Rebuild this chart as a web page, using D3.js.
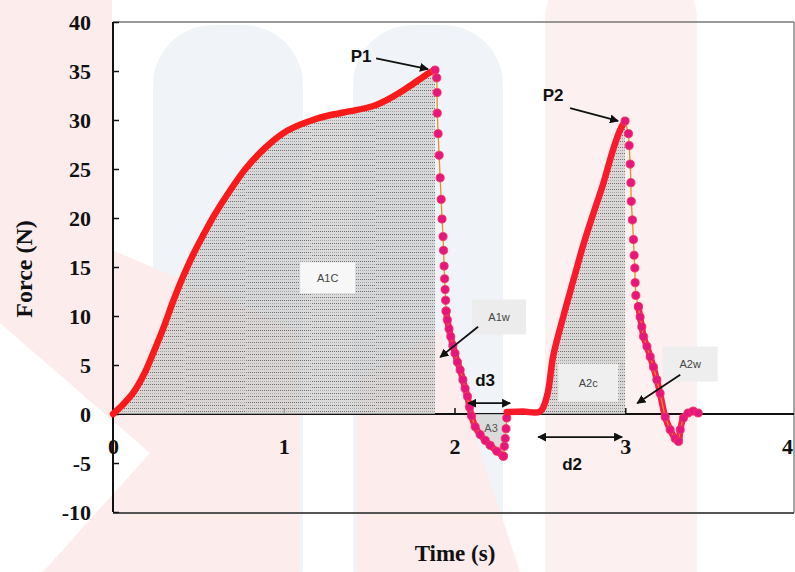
<!DOCTYPE html>
<html>
<head>
<meta charset="utf-8">
<script src="https://cdn.jsdelivr.net/npm/d3@7"></script>
<style>
  body { margin: 0; background: #fff; }
  svg { display: block; }
</style>
</head>
<body>
<svg id="chart"></svg>
<script>
// ---- data ----
// first contraction, rising part up to P1 (solid trace)
var rise1Time  = [0, 0.06, 0.12, 0.18, 0.24, 0.30, 0.35, 0.41, 0.47, 0.53, 0.59, 0.67, 0.78, 0.90, 1.02, 1.17, 1.30, 1.39, 1.52, 1.60, 1.68, 1.75, 1.80, 1.85, 1.886];
var rise1Force = [0, 1.0, 2.2, 4.0, 6.4, 9.0, 11.4, 14.0, 16.3, 18.3, 20.2, 22.4, 25.1, 27.3, 28.9, 30.0, 30.6, 30.9, 31.4, 32.0, 32.8, 33.6, 34.2, 34.8, 35.1];
// fast release after P1 (sparse samples)
var drop1Time  = [1.886, 1.896, 1.898, 1.899, 1.904, 1.910, 1.916, 1.922, 1.927, 1.933, 1.936, 1.939, 1.942, 1.945, 1.948, 1.951];
var drop1Force = [35.1, 34.3, 32.8, 30.7, 28.6, 26.4, 24.1, 21.9, 19.9, 18.1, 16.7, 15.1, 13.8, 12.7, 11.6, 10.5];
// end of release and undershoot
var dip1Time  = [1.951, 1.958, 1.968, 1.978, 1.990, 2.003, 2.017, 2.033, 2.049, 2.062, 2.076, 2.088, 2.100, 2.121, 2.150, 2.180, 2.209, 2.248, 2.286];
var dip1Force = [10.5, 9.6, 8.7, 7.9, 7.0, 6.2, 5.3, 4.5, 3.5, 2.6, 1.8, 0.7, -0.2, -1.3, -2.1, -2.7, -3.2, -3.8, -4.3];
var back1Time  = [2.286, 2.292, 2.297, 2.302, 2.306];
var back1Force = [-4.3, -3.3, -2.5, -1.5, -0.4];
// rest, then second contraction up to P2
var rise2Time  = [2.306, 2.40, 2.501, 2.541, 2.579, 2.638, 2.697, 2.755, 2.814, 2.871, 2.929, 2.970, 2.999];
var rise2Force = [0.2, 0.25, 0.25, 1.8, 6.0, 10.0, 13.7, 17.3, 20.5, 23.5, 27.0, 29.0, 29.9];
var drop2Time  = [2.999, 3.019, 3.023, 3.029, 3.033, 3.035, 3.042, 3.048, 3.052, 3.056, 3.058, 3.062, 3.077];
var drop2Force = [29.9, 28.6, 27.4, 25.5, 23.6, 21.7, 19.8, 17.8, 16.2, 14.9, 13.4, 12.1, 10.95];
var dip2Time  = [3.077, 3.087, 3.097, 3.107, 3.127, 3.146, 3.165, 3.185, 3.204, 3.234, 3.263, 3.292, 3.312, 3.322, 3.341, 3.368, 3.398, 3.427];
var dip2Force = [10.95, 9.9, 8.9, 7.9, 6.9, 5.85, 4.8, 3.5, 2.1, -0.3, -1.6, -2.5, -2.8, -1.6, -0.4, 0.1, 0.3, 0.1];

var xTicks = [0, 1, 2, 3, 4];
var yTicks = [-10, -5, 0, 5, 10, 15, 20, 25, 30, 35, 40];

var W = 795, H = 572;
var svg = d3.select("#chart").attr("width", W).attr("height", H);

var x = d3.scaleLinear().domain([0, 4]).range([113, 796]);
var y = d3.scaleLinear().domain([-10, 40]).range([512, 22]);

function pts(ts, fs) {
  return ts.map(function (t, i) { return { t: t, f: fs[i] }; });
}
var rise1 = pts(rise1Time, rise1Force),
  drop1 = pts(drop1Time, drop1Force),
  dip1 = pts(dip1Time, dip1Force),
  back1 = pts(back1Time, back1Force),
  rise2 = pts(rise2Time, rise2Force),
  drop2 = pts(drop2Time, drop2Force),
  dip2 = pts(dip2Time, dip2Force);

// ---- faint watermark behind the chart ----
var wm = svg.append("g");
wm.append("rect").attr("x", -80).attr("y", -60).attr("width", 192).attr("height", 700).attr("rx", 55).attr("fill", "#fcecec");
wm.append("rect").attr("x", 153).attr("y", 25).attr("width", 150).attr("height", 600).attr("rx", 60).attr("fill", "#f0f4f8");
wm.append("rect").attr("x", 353).attr("y", 25).attr("width", 150).attr("height", 600).attr("rx", 60).attr("fill", "#f0f4f8");
wm.append("rect").attr("x", 545).attr("y", -40).attr("width", 152).attr("height", 700).attr("rx", 60).attr("fill", "#fdf0f0");
wm.append("polygon").attr("points", "112,250 300,330 300,572 112,572").attr("fill", "#fcecec");
wm.append("polygon").attr("points", "357,380 440,330 520,572 357,572").attr("fill", "#fcecec");
wm.append("polygon").attr("points", "0,323 150,453 43,572 0,572").attr("fill", "#ffffff");

// ---- hatch patterns ----
var defs = svg.append("defs");
[0, 3].forEach(function (off, i) {
  var p = defs.append("pattern").attr("id", "hatch" + i)
    .attr("patternUnits", "userSpaceOnUse").attr("width", 6).attr("height", 6)
    .attr("patternTransform", "translate(0," + off + ")");
  p.append("rect").attr("width", 6).attr("height", 6).attr("fill", "#cfcfcf").attr("fill-opacity", 0.75);
  p.append("line").attr("x1", 0).attr("x2", 6).attr("y1", 0.5).attr("y2", 0.5)
    .attr("stroke", "#6d6d6d").attr("stroke-width", 1).attr("stroke-dasharray", "1,1");
  p.append("line").attr("x1", 0).attr("x2", 6).attr("y1", 3.5).attr("y2", 3.5)
    .attr("stroke", "#9a9a9a").attr("stroke-width", 0.8).attr("stroke-dasharray", "1,1");
});
defs.append("marker").attr("id", "arrow").attr("viewBox", "0 0 10 10")
  .attr("refX", 9).attr("refY", 5).attr("markerWidth", 5).attr("markerHeight", 5)
  .attr("orient", "auto-start-reverse")
  .append("path").attr("d", "M0,0 L10,5 L0,10 Z").attr("fill", "#111");

// ---- axes & frame ----
svg.append("line").attr("x1", 113).attr("x2", 794).attr("y1", 22).attr("y2", 22).attr("stroke", "#777").attr("stroke-width", 1.5);
svg.append("line").attr("x1", 794).attr("x2", 794).attr("y1", 22).attr("y2", 513).attr("stroke", "#888").attr("stroke-width", 1.5);
svg.append("line").attr("x1", 113).attr("x2", 794).attr("y1", 513).attr("y2", 513).attr("stroke", "#555").attr("stroke-width", 2);

var fmt = function (d) { return String(d); };
var yAxis = d3.axisLeft(y).tickValues(yTicks).tickFormat(fmt).tickSizeInner(-6).tickSizeOuter(0).tickPadding(22);
var gy = svg.append("g").attr("transform", "translate(113,0)").call(yAxis);
var xAxis = d3.axisBottom(x).tickValues(xTicks).tickFormat(fmt).tickSizeInner(-6).tickSizeOuter(0).tickPadding(24);
var gx = svg.append("g").attr("transform", "translate(0," + y(0) + ")").call(xAxis);
[gx, gy].forEach(function (g) {
  g.selectAll("path").attr("stroke", "#111").attr("stroke-width", 2);
  g.selectAll("line").attr("stroke", "#111").attr("stroke-width", 1.5);
  g.selectAll("text").attr("fill", "#111")
    .style("font-family", "'Liberation Serif', 'DejaVu Serif', serif")
    .style("font-weight", "bold").style("font-size", "22px");
});
gy.select("path").attr("d", "M0," + y(-10) + "V" + y(40));
gx.select("path").attr("d", "M" + x(0) + ",0H794");
// last x label sits on the right edge; nudge it inside
gx.selectAll(".tick text").filter(function (d) { return d === 4; }).attr("x", -9);

svg.append("text").attr("transform", "translate(32," + 269 + ")rotate(-90)")
  .attr("text-anchor", "middle")
  .style("font-family", "'Liberation Serif', serif").style("font-weight", "bold").style("font-size", "24px")
  .attr("fill", "#111").text("Force (N)");
svg.append("text").attr("x", 455).attr("y", 561).attr("text-anchor", "middle")
  .style("font-family", "'Liberation Serif', serif").style("font-weight", "bold").style("font-size", "23px")
  .attr("fill", "#111").text("Time (s)");

// ---- shaded areas ----
var area = d3.area().x(function (d) { return x(d.t); })
  .y0(y(0)).y1(function (d) { return y(Math.max(d.f, 0)); })
  .curve(d3.curveCatmullRom.alpha(0.5));
defs.append("clipPath").attr("id", "clipA1").append("path").attr("d", area(rise1));
var bands = [0, 0.42, 0.78, 1.166, 1.535, 1.9];
var gA1 = svg.append("g").attr("clip-path", "url(#clipA1)");
for (var i = 0; i < bands.length - 1; i++) {
  gA1.append("rect").attr("x", x(bands[i])).attr("width", x(bands[i + 1]) - x(bands[i]))
    .attr("y", y(40)).attr("height", y(0) - y(40) + 2)
    .attr("fill", "url(#hatch" + (i % 2) + ")");
}
var a2 = rise2.filter(function (d) { return d.t >= 2.5; });
svg.append("path").attr("d", area(a2)).attr("fill", "url(#hatch1)");

var a3 = dip1.filter(function (d) { return d.f <= 0.7; }).concat(back1.slice(-1));
var area3 = d3.area().x(function (d) { return x(d.t); })
  .y0(y(0)).y1(function (d) { return y(Math.min(d.f, 0)); });
svg.append("path").attr("d", area3(a3)).attr("fill", "#d6d6d6").attr("fill-opacity", 0.85);

// ---- force trace ----
var line = d3.line().x(function (d) { return x(d.t); }).y(function (d) { return y(d.f); })
  .curve(d3.curveCatmullRom.alpha(0.5));
function thick(data, color) {
  svg.append("path").attr("d", line(data)).attr("fill", "none")
    .attr("stroke", color).attr("stroke-width", 6.5)
    .attr("stroke-linecap", "round").attr("stroke-linejoin", "round");
}
function dots(data) {
  svg.append("path").attr("d", d3.line().x(function (d) { return x(d.t); }).y(function (d) { return y(d.f); })(data))
    .attr("fill", "none").attr("stroke", "#f28a2e").attr("stroke-width", 1.3);
  svg.append("g").selectAll("circle").data(data).enter().append("circle")
    .attr("cx", function (d) { return x(d.t); })
    .attr("cy", function (d) { return y(d.f); })
    .attr("r", 4.1).attr("fill", "#e8157c").attr("stroke", "#f23a5a").attr("stroke-width", 0.8);
}
thick(rise1, "#fb1a1a");
dots(drop1);
thick(dip1, "#f51c4e");
dots(dip1);
dots(back1);
thick(rise2, "#fb1a2a");
dots(drop2);
thick(dip2, "#f51c4e");
dots(dip2);

// ---- annotations ----
var sans = "'Liberation Sans', Arial, sans-serif";
function boxLabel(t, f, w, h, txt, bg) {
  var cx = x(t), cy = y(f);
  svg.append("rect").attr("x", cx - w / 2).attr("y", cy - h / 2).attr("width", w).attr("height", h)
    .attr("fill", bg);
  svg.append("text").attr("x", cx).attr("y", cy + 4).attr("text-anchor", "middle")
    .style("font-family", sans).style("font-size", "11px").attr("fill", "#444").text(txt);
}
function bold(t, f, txt) {
  svg.append("text").attr("x", x(t)).attr("y", y(f) + 6).attr("text-anchor", "middle")
    .style("font-family", sans).style("font-weight", "bold").style("font-size", "17px")
    .attr("fill", "#111").text(txt);
}
function arrow(t1, f1, t2, f2, both) {
  var l = svg.append("line").attr("x1", x(t1)).attr("y1", y(f1)).attr("x2", x(t2)).attr("y2", y(f2))
    .attr("stroke", "#111").attr("stroke-width", 1.8).attr("marker-end", "url(#arrow)");
  if (both) l.attr("marker-start", "url(#arrow)");
}
boxLabel(1.257, 13.9, 55, 31, "A1C", "#f7f7f7");
boxLabel(2.261, 9.9, 54, 35, "A1w", "#ececec");
boxLabel(2.783, 3.2, 60, 38, "A2c", "#efefef");
boxLabel(3.38, 5.1, 55, 35, "A2w", "#eeeeee");
svg.append("text").attr("x", x(2.214)).attr("y", y(-1.4) + 4).attr("text-anchor", "middle")
  .style("font-family", sans).style("font-size", "11px").attr("fill", "#555").text("A3");

bold(1.453, 36.5, "P1");
arrow(1.541, 36.3, 1.845, 35.2);
bold(2.578, 32.6, "P2");
arrow(2.677, 31.2, 2.958, 29.9);
arrow(2.138, 8.9, 1.916, 5.8);
arrow(3.322, 4.0, 3.07, 1.1);
bold(2.179, 3.5, "d3");
arrow(2.08, 1.1, 2.326, 1.1, true);
bold(2.689, -5.1, "d2");
arrow(2.49, -2.35, 2.982, -2.35, true);
</script>
</body>
</html>
